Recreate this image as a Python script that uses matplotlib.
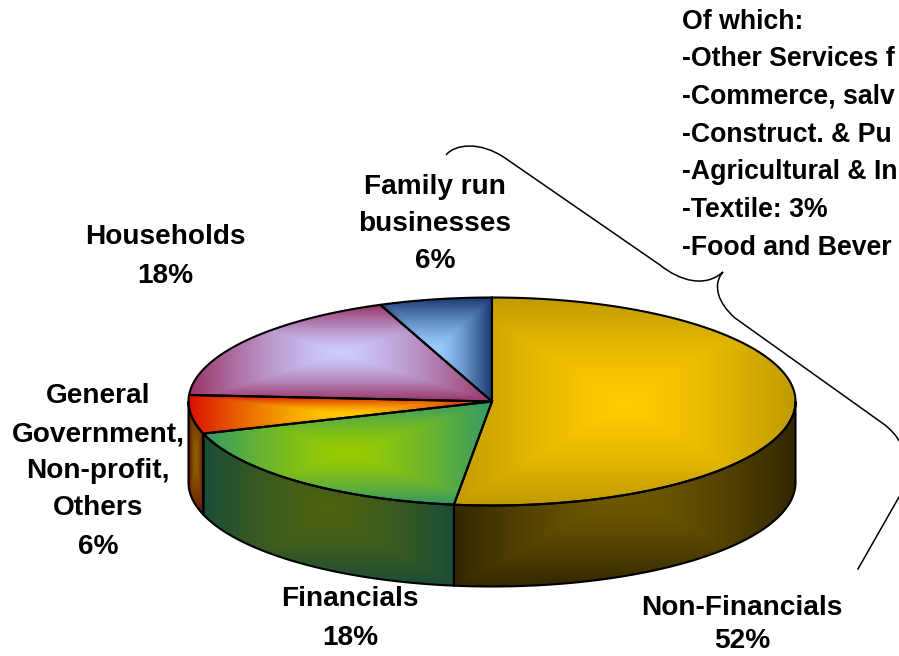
import numpy as np
import matplotlib
matplotlib.use("Agg")
import matplotlib.pyplot as plt
from matplotlib.colors import to_rgb
from matplotlib.patches import PathPatch, Polygon
from matplotlib.path import Path

plt.rcParams['font.family'] = ['Liberation Sans', 'DejaVu Sans']

# data
categories = ["Non-Financials", "Financials", "General Government", "Households", "Family run businesses"]
shares = [52, 18, 6, 18, 6]

# colours: (top centre, top edge, side centre, side edge)
top_centre = ["#FFCC00", "#99CC00", "#FFCC00", "#CCCCFF", "#99CCFF"]
top_edge = ["#C09A00", "#339966", "#D81000", "#993366", "#1A3A70"]
side_centre = ["#6F5A00", "#4F6310", "#8A6500", None, None]
side_edge = ["#332700", "#1A4D38", "#6B1000", None, None]

label_lines = [
    ["Non-Financials", "52%"],
    ["Financials", "18%"],
    ["General", "Government,", "Non-profit,", "Others", "6%"],
    ["Households", "18%"],
    ["Family run", "businesses", "6%"],
]
label_x = [742, 350, 98, 165, 435]
label_y = [
    [608, 641],
    [599, 638],
    [396, 434, 471, 508, 547],
    [237, 276],
    [187, 224, 261],
]

detail_lines = ["Of which:", "-Other Services f", "-Commerce, salv", "-Construct. & Pu",
                "-Agricultural & In", "-Textile: 3%", "-Food and Bever"]
detail_y = [22, 59, 97, 135, 172, 210, 248]

# pie geometry in pixels
cx, cy = 492, 401.5
rx, ry = 303.5, 104
depth = 81


def rim(angles, drop=0):
    # angles in degrees, clockwise from the top of the ellipse
    a = np.radians(angles)
    return np.column_stack([cx + rx * np.sin(a), cy - ry * np.cos(a) + drop])


def fill_gradient(ax, pts, centre, edge):
    # rectangular path gradient over the bounding box, like the office charts do
    patch = Polygon(pts, closed=True, facecolor="none", edgecolor="black", linewidth=1.5, zorder=3)
    ax.add_patch(patch)
    x0, y0 = pts.min(axis=0)
    x1, y1 = pts.max(axis=0)
    xs = np.arange(np.floor(x0), np.ceil(x1) + 1)
    ys = np.arange(np.floor(y0), np.ceil(y1) + 1)
    gx, gy = np.meshgrid(xs, ys)
    t = np.maximum(np.abs(gx - (x0 + x1) / 2) / ((x1 - x0) / 2),
                   np.abs(gy - (y0 + y1) / 2) / ((y1 - y0) / 2))
    t = np.clip(t, 0, 1)[..., None] ** 1.4
    img = np.array(to_rgb(centre)) * (1 - t) + np.array(to_rgb(edge)) * t
    im = ax.imshow(img, extent=(xs[0], xs[-1], ys[-1], ys[0]), origin="upper",
                   aspect="auto", interpolation="bilinear", zorder=2)
    im.set_clip_path(patch)


fig = plt.figure(figsize=(8.99, 6.56), dpi=100)
ax = fig.add_axes([0, 0, 1, 1])

edges = np.concatenate([[0], np.cumsum(shares)]) * 3.6

# side walls first, only the front half shows
for i in range(len(shares)):
    a, b = max(edges[i], 90), min(edges[i + 1], 270)
    if side_centre[i] is None or a >= b:
        continue
    arc = np.linspace(a, b, 120)
    pts = np.vstack([rim(arc), rim(arc[::-1], depth)])
    fill_gradient(ax, pts, side_centre[i], side_edge[i])

# top faces
for i in range(len(shares)):
    arc = np.linspace(edges[i], edges[i + 1], 200)
    pts = np.vstack([[cx, cy], rim(arc)])
    fill_gradient(ax, pts, top_centre[i], top_edge[i])

# curly callout
verts = [(446, 155), (455, 144), (480, 141), (505, 158),
         (660, 265), (680, 281), (705, 288), (723, 272),
         (712, 285), (718, 303), (735, 318),
         (885, 425), (892, 431), (896, 435), (899, 441)]
codes = [Path.MOVETO, Path.CURVE4, Path.CURVE4, Path.CURVE4,
         Path.LINETO, Path.CURVE4, Path.CURVE4, Path.CURVE4,
         Path.CURVE4, Path.CURVE4, Path.CURVE4,
         Path.LINETO, Path.CURVE4, Path.CURVE4, Path.CURVE4]
ax.add_patch(PathPatch(Path(verts, codes), facecolor="none", edgecolor="black", linewidth=1.1, zorder=4))
ax.plot([858, 899], [569, 497], color="black", linewidth=1.1, zorder=4)

for lines, x, ys in zip(label_lines, label_x, label_y):
    for line, y in zip(lines, ys):
        ax.text(x, y, line, ha="center", va="center", fontsize=20.2, fontweight="bold", color="black", zorder=5)

# slightly smaller so the cropped lines stay inside the frame
for line, y in zip(detail_lines, detail_y):
    ax.text(682, y, line, ha="left", va="center", fontsize=19.2, fontweight="bold", color="black", zorder=5)

ax.set_xlim(0, 899)
ax.set_ylim(656, 0)
ax.axis("off")

fig.savefig("out.png", dpi=100)
plt.close(fig)
